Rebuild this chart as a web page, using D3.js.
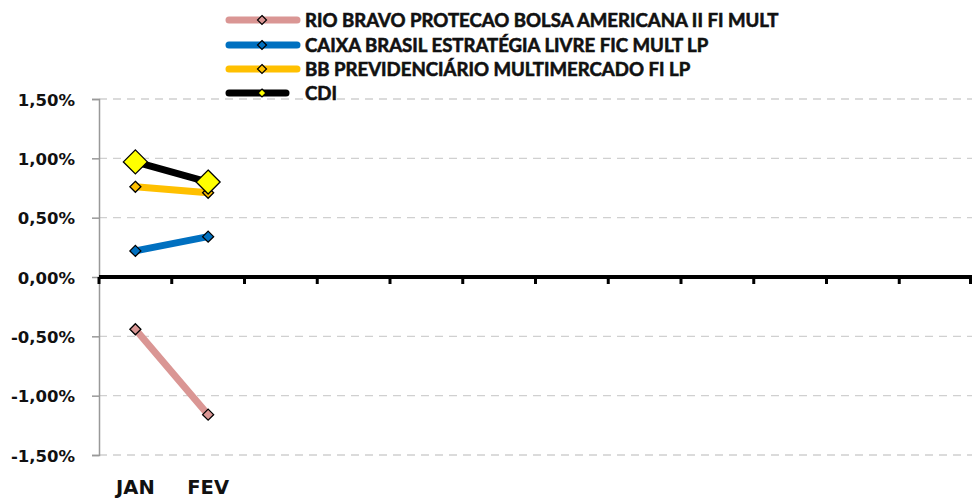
<!DOCTYPE html>
<html><head><meta charset="utf-8">
<script src="https://cdn.jsdelivr.net/npm/d3@7"></script>
<style>body{margin:0;background:#fff;} svg{display:block;font-family:Lato,"Open Sans",sans-serif;font-weight:bold;}</style>
</head><body>
<svg id="c" width="972" height="499"></svg>
<script>
const months = ["JAN","FEV","","","","","","","","","",""];
const seriesNames = ["RIO BRAVO PROTECAO BOLSA AMERICANA II FI MULT","CAIXA BRASIL ESTRATÉGIA LIVRE FIC MULT LP","BB PREVIDENCIÁRIO MULTIMERCADO FI LP","CDI"];
const rioBravo = [-0.44, -1.16];
const caixa = [0.22, 0.34];
const bbPrev = [0.76, 0.71];
const cdi = [0.97, 0.80];
const yTicks = [1.5, 1.0, 0.5, 0.0, -0.5, -1.0, -1.5];
const tickLabels = ["1,50%","1,00%","0,50%","0,00%","-0,50%","-1,00%","-1,50%"];

const colors = ["#DA9694","#0070C0","#FFC000","#000000"];
const markerFill = ["#DA9694","#0070C0","#FFC000","#FFFF00"];
const allSeries = [rioBravo, caixa, bbPrev, cdi];

const svg = d3.select("#c");
const pLeft = 99, pRight = 972, pTop = 99, pBottom = 455;
const x = d3.scaleBand().domain(d3.range(months.length)).range([pLeft, pRight]);
const y = d3.scaleLinear().domain([-1.5, 1.5]).range([pBottom, pTop]);

// gridlines
svg.append("g").selectAll("line").data(yTicks.filter(d => d !== 0)).join("line")
  .attr("x1", pLeft).attr("x2", pRight).attr("y1", d => y(d)).attr("y2", d => y(d))
  .attr("stroke", "#d0d0d0").attr("stroke-width", 1.3).attr("stroke-dasharray", "8,6");

// y axis
const yAxis = d3.axisLeft(y).tickValues(yTicks).tickFormat((d, i) => tickLabels[i]).tickSize(7).tickPadding(17);
const gy = svg.append("g").attr("transform", `translate(${pLeft},0)`).call(yAxis);
gy.select(".domain").attr("stroke", "#999").attr("stroke-width", 1.5);
gy.selectAll(".tick line").attr("stroke", "#999").attr("stroke-width", 1.5);
gy.selectAll(".tick text").attr("font-size", 16.5).attr("font-family", "'DejaVu Sans', sans-serif")
  .attr("font-weight", "bold").attr("fill", "#111").attr("dy", "0.37em");

// zero line with ticks at category boundaries
const bounds = d3.range(months.length + 1).map(i => pLeft + i * x.step());
svg.append("g").selectAll("line").data(bounds).join("line")
  .attr("x1", d => Math.min(d, pRight - 1.5)).attr("x2", d => Math.min(d, pRight - 1.5))
  .attr("y1", y(0)).attr("y2", y(0) + 7).attr("stroke", "#000").attr("stroke-width", 3);
svg.append("line").attr("x1", pLeft).attr("x2", pRight).attr("y1", y(0)).attr("y2", y(0))
  .attr("stroke", "#000").attr("stroke-width", 4);

// x labels
svg.append("g").selectAll("text").data(months).join("text")
  .attr("x", (d, i) => x(i) + x.bandwidth() / 2).attr("y", 494)
  .attr("text-anchor", "middle").attr("font-size", 19.5).attr("font-family", "'DejaVu Sans', sans-serif")
  .attr("fill", "#111").text(d => d);

// lines
const line = d3.line().x((d, i) => x(i) + x.bandwidth() / 2).y(d => y(d));
allSeries.forEach((s, k) => {
  svg.append("path").datum(s).attr("d", line).attr("fill", "none")
    .attr("stroke", colors[k]).attr("stroke-width", 7).attr("stroke-linecap", "round");
});
const diamond = (cx, cy, r) => `M${cx},${cy - r}L${cx + r},${cy}L${cx},${cy + r}L${cx - r},${cy}Z`;
allSeries.forEach((s, k) => {
  const r = k === 3 ? 12 : 5.5;
  svg.append("g").selectAll("path").data(s).join("path")
    .attr("d", (d, i) => diamond(x(i) + x.bandwidth() / 2, y(d), r))
    .attr("fill", markerFill[k]).attr("stroke", "#000").attr("stroke-width", 1.3);
});

// legend
const legY = [20, 45, 69, 93];
const legEnd = [297, 297, 297, 286];
const legG = svg.append("g");
seriesNames.forEach((n, k) => {
  legG.append("line").attr("x1", 229).attr("x2", legEnd[k]).attr("y1", legY[k]).attr("y2", legY[k])
    .attr("stroke", colors[k]).attr("stroke-width", 7).attr("stroke-linecap", "round");
  const r = k === 3 ? 4 : 4.5;
  legG.append("path").attr("d", diamond(262, legY[k], r)).attr("fill", markerFill[k]).attr("stroke", "#000").attr("stroke-width", 1.2);
  legG.append("text").attr("x", 305).attr("y", legY[k] + 7).attr("font-size", 18.6).attr("fill", "#111")
    .attr("stroke", "#111").attr("stroke-width", 0.6).text(n);
});
</script>
</body></html>
